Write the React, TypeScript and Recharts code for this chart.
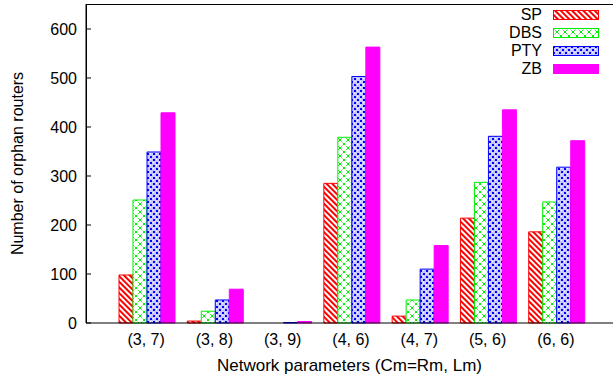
import React from "react";
import { BarChart, Bar, XAxis, YAxis } from "recharts";

const categories = ["(3, 7)", "(3, 8)", "(3, 9)", "(4, 6)", "(4, 7)", "(5, 6)", "(6, 6)"];
const sp = [98, 4, 0, 285, 14, 214, 186];
const dbs = [251, 24, 0, 379, 47, 287, 247];
const pty = [349, 47, 1, 503, 110, 381, 318];
const zb = [429, 69, 3, 563, 158, 435, 372];
const yTicks = [0, 100, 200, 300, 400, 500, 600];

const series = [
  { key: "SP", color: "#ff0000", fill: "url(#patSP)" },
  { key: "DBS", color: "#00ee00", fill: "url(#patDBS)" },
  { key: "PTY", color: "#0000ff", fill: "url(#patPTY)" },
  { key: "ZB", color: "#ff00ff", fill: "#ff00ff" },
];

const data = categories.map((c, i) => ({ name: c, SP: sp[i], DBS: dbs[i], PTY: pty[i], ZB: zb[i] }));

const font = "'Liberation Sans', Arial, Helvetica, sans-serif";

function Patterns() {
  return (
    <svg width={0} height={0} style={{ position: "absolute" }}>
      <defs>
        <pattern id="patSP" width="4" height="4" patternUnits="userSpaceOnUse" patternTransform="rotate(-45)">
          <rect width="4" height="4" fill="#fff" />
          <rect width="2" height="4" fill="#ff0000" />
        </pattern>
        <pattern id="patDBS" width="8" height="8" patternUnits="userSpaceOnUse">
          <rect width="8" height="8" fill="#fff" />
          <path d="M0 0 L8 8 M8 0 L0 8" stroke="#00ee00" strokeWidth="1" strokeDasharray="1.5 1" />
          <rect x="3" y="3" width="2" height="2" fill="#00ee00" />
        </pattern>
        <pattern id="patPTY" width="6" height="6" patternUnits="userSpaceOnUse">
          <rect width="6" height="6" fill="#c8c8ff" />
          <rect width="2" height="2" fill="#0000ff" />
          <rect x="3" y="3" width="2" height="2" fill="#0000ff" />
          <rect x="3" y="0" width="1" height="1" fill="#fff" />
          <rect x="0" y="3" width="1" height="1" fill="#fff" />
        </pattern>
      </defs>
    </svg>
  );
}

function LegendBox() {
  return (
    <div style={{ position: "absolute", left: 470, top: 6, width: 140, fontFamily: font, fontSize: 16 }}>
      {series.map((s) => (
        <div key={s.key} style={{ display: "flex", alignItems: "center", height: 18 }}>
          <span style={{ width: 72, textAlign: "right", color: "#000" }}>{s.key}</span>
          <svg width={46} height={10} style={{ marginLeft: 11 }}>
            <rect x={0.5} y={0.5} width={45} height={9} fill={s.fill} stroke={s.color} />
          </svg>
        </div>
      ))}
    </div>
  );
}

export default function App() {
  return (
    <div style={{ position: "absolute", left: 0, top: 0, width: 613, height: 379, background: "#fff" }}>
      <Patterns />
      <BarChart
        width={613}
        height={379}
        data={data}
        margin={{ top: 4, right: 0, bottom: 0, left: 0 }}
        barCategoryGap={6}
        barGap={0}
      >
        <XAxis
          dataKey="name"
          height={56}
          padding={{ left: 27, right: 22 }}
          tickLine={false}
          axisLine={{ stroke: "#000" }}
          tick={{ fontSize: 16, fill: "#000", fontFamily: font, dx: -1 }}
          tickMargin={5}
          label={{ value: "Network parameters (Cm=Rm, Lm)", position: "insideBottom", offset: 8, fontSize: 17, fill: "#000", fontFamily: font }}
        />
        <YAxis
          width={86}
          domain={[0, 651]}
          ticks={yTicks}
          tickSize={-5}
          tickMargin={14}
          tickLine={{ stroke: "#000" }}
          axisLine={{ stroke: "#000" }}
          tick={{ fontSize: 16, fill: "#000", fontFamily: font }}
          label={{ value: "Number of orphan routers", angle: -90, position: "insideLeft", offset: 17, fontSize: 16, fill: "#000", fontFamily: font, style: { textAnchor: "middle" } }}
        />
        {series.map((s) => (
          <Bar key={s.key} dataKey={s.key} fill={s.fill} stroke={s.color} strokeWidth={1} isAnimationActive={false} />
        ))}
      </BarChart>
      <div style={{ position: "absolute", left: 86, top: 4, width: 527, height: 319, borderTop: "1px solid #000", borderLeft: "1px solid #000", boxSizing: "border-box", pointerEvents: "none" }} />
      <LegendBox />
    </div>
  );
}
